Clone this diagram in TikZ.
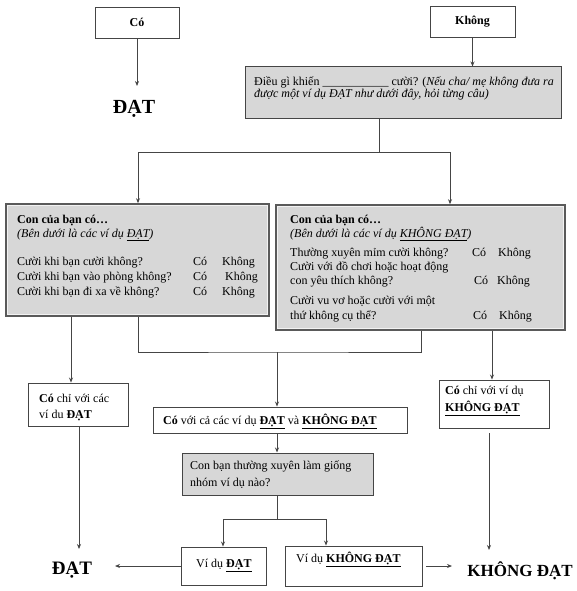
\documentclass[tikz,border=0pt]{standalone}
\usepackage{fontspec}
\setmainfont{Liberation Serif}
\usetikzlibrary{arrows.meta}
\definecolor{boxgray}{HTML}{D7D7D7}
\definecolor{linec}{HTML}{454545}
\definecolor{bevc}{HTML}{5A5A5A}
\definecolor{bevin}{HTML}{F2F2F2}
\begin{document}
\begin{tikzpicture}[x=1pt,y=-1pt,
  line/.style={draw=linec, line width=0.8pt},
  arr/.style={line, -{Stealth[length=5pt,width=4pt]}},
  wbox/.style={draw=linec, line width=0.9pt, fill=white, inner sep=0pt},
  gbox/.style={draw=linec, line width=1pt, fill=boxgray, inner sep=0pt},
  bbox/.style={draw=bevc, line width=1.6pt, fill=boxgray, inner sep=0pt},
  txt/.style={anchor=base west, inner sep=0pt, font=\fontsize{12}{14}\selectfont},
  big/.style={inner sep=0pt, font=\fontsize{20}{24}\selectfont\bfseries},
]
\useasboundingbox[fill=white] (0,0) rectangle (576,591);

% column coordinates
\coordinate (xa) at (71,0);
\coordinate (xb) at (138,0);
\coordinate (xd) at (421,0);
\coordinate (xe) at (492,0);
\coordinate (xf) at (79,0);
\coordinate (xg) at (489,0);
\coordinate (xh) at (223,0);
\coordinate (xi) at (326,0);
\coordinate (xk) at (450,0);
\coordinate (j1) at (379,152);
\coordinate (j2) at (277,352);
\coordinate (j3) at (277,519);

% top boxes
\node[wbox, minimum width=84pt, minimum height=31pt] (cobox) at (137,22.5) {};
\node[txt, anchor=center, font=\fontsize{12}{14}\selectfont\bfseries] (cot) at (cobox.center) {Có};
\node[wbox, minimum width=85pt, minimum height=31pt] (khbox) at (472.5,21.5) {};
\node[txt, anchor=center, font=\fontsize{12}{14}\selectfont\bfseries] (kht) at (khbox.center) {Không};
\node[big] (dat1) at (134,109) {ĐẠT};
\coordinate (dat1top) at (137,86);

% question 1
\node[gbox, minimum width=316pt, minimum height=52pt] (q1) at (403,93) {};
\node[txt] (q1a) at (254,86) {Điều gì khiến \_\_\_\_\_\_\_\_\_\_\_ cười? (\textit{Nếu cha/ mẹ không đưa ra}};
\node[txt] (q1b) at (254,98) {\textit{được một ví dụ ĐẠT như dưới đây, hỏi từng câu)}};

% left big box
\node[bbox, minimum width=263pt, minimum height=112pt] (lbox) at (137.5,260) {};
\draw[bevin, line width=0.8pt] ([shift={(2.5pt,-2.5pt)}]lbox.north west) rectangle ([shift={(-2.5pt,2.5pt)}]lbox.south east);
\node[txt] (l1) at (17,223) {\textbf{Con của bạn có…}};
\node[txt] (l2) at (17,237) {\textit{(Bên dưới là các ví dụ \underline{ĐẠT})}};
\node[txt] (l3) at (17,265) {Cười khi bạn cười không?};
\node[txt] (l3a) at (193,265) {Có};
\node[txt] (l3b) at (222,265) {Không};
\node[txt] (l4) at (17,280) {Cười khi bạn vào phòng không?};
\node[txt] (l4a) at (193,280) {Có};
\node[txt] (l4b) at (225,280) {Không};
\node[txt] (l5) at (17,295) {Cười khi bạn đi xa về không?};
\node[txt] (l5a) at (193,295) {Có};
\node[txt] (l5b) at (222,295) {Không};

% right big box
\node[bbox, minimum width=289pt, minimum height=125pt] (rbox) at (420.5,267.5) {};
\draw[bevin, line width=0.8pt] ([shift={(2.5pt,-2.5pt)}]rbox.north west) rectangle ([shift={(-2.5pt,2.5pt)}]rbox.south east);
\node[txt] (r1) at (290,223) {\textbf{Con của bạn có…}};
\node[txt] (r2) at (290,237) {\textit{(Bên dưới là các ví dụ \underline{KHÔNG ĐẠT})}};
\node[txt] (r3) at (290,256) {Thường xuyên mỉm cười không?};
\node[txt] (r3a) at (472,256) {Có};
\node[txt] (r3b) at (498,256) {Không};
\node[txt] (r4) at (290,270) {Cười với đồ chơi hoặc hoạt động};
\node[txt] (r5) at (290,284) {con yêu thích không?};
\node[txt] (r5a) at (474,284) {Có};
\node[txt] (r5b) at (497,284) {Không};
\node[txt] (r6) at (290,304) {Cười vu vơ hoặc cười với một};
\node[txt] (r7) at (290,319) {thứ không cụ thể?};
\node[txt] (r7a) at (473,319) {Có};
\node[txt] (r7b) at (499,319) {Không};

% result boxes
\node[wbox, minimum width=100pt, minimum height=43pt] (lres) at (78,404.5) {};
\node[txt] (lr1) at (39,402) {\textbf{Có} chỉ với các};
\node[txt] (lr2) at (39,418) {ví du \textbf{ĐẠT}};
\node[wbox, minimum width=254pt, minimum height=26pt] (cbox) at (280,420) {};
\node[txt] (cb1) at (163,424) {\textbf{Có} với cả các ví dụ \underline{\textbf{ĐẠT}} và \underline{\textbf{KHÔNG ĐẠT}}};
\node[wbox, minimum width=110pt, minimum height=48pt] (rres) at (494,404) {};
\node[txt] (rr1) at (445,394) {\textbf{Có} chỉ với ví dụ};
\node[txt] (rr2) at (445,411) {\underline{\textbf{KHÔNG ĐẠT}}};

% question 2
\node[gbox, minimum width=191pt, minimum height=42pt] (q2) at (277.5,474) {};
\node[txt] (q2a) at (190,469) {Con bạn thường xuyên làm giống};
\node[txt] (q2b) at (190,486) {nhóm ví dụ nào?};

% example boxes
\node[wbox, minimum width=85pt, minimum height=38pt] (vd1) at (223.5,566) {};
\node[txt] (vd1t) at (196,567) {Ví dụ \underline{\textbf{ĐẠT}}};
\node[wbox, minimum width=137pt, minimum height=40pt] (vd2) at (353.5,566) {};
\node[txt] (vd2t) at (296,562) {Ví dụ \underline{\textbf{KHÔNG ĐẠT}}};

% final results
\node[big, font=\fontsize{19}{23}\selectfont\bfseries] (dat2) at (72,570) {ĐẠT};
\node[big, font=\fontsize{17}{21}\selectfont\bfseries] (kd2) at (520,571) {KHÔNG ĐẠT};
\coordinate (dat2top) at (79,549);
\coordinate (kd2top) at (489,550);
\coordinate (dat2r) at (115,566);
\coordinate (kd2l) at (452,566);

% connectors
\draw[arr] (cobox.south) -- (dat1top);
\draw[arr] (khbox.south) -- (khbox.south |- q1.north);
\draw[line] (q1.south -| j1) -- (j1);
\draw[arr] (j1) -| (lbox.north -| xb);
\draw[arr] (j1) -| (rbox.north -| xk);
\draw[arr] (lbox.south -| xa) -- (lres.north -| xa);
\draw[line] (lbox.south -| xb) |- (j2) -| (rbox.south -| xd);
\draw[arr] (j2) -- (cbox.north -| j2);
\draw[arr] (rbox.south -| xe) -- (rres.north -| xe);
\draw[arr] (cbox.south -| j2) -- (q2.north -| j2);
\draw[line] (q2.south -| j3) -- (j3);
\draw[arr] (j3) -| (vd1.north -| xh);
\draw[arr] (j3) -| (vd2.north -| xi);
\draw[arr] (lres.south -| xf) -- (dat2top);
\draw[arr] ([yshift=-5pt]rres.south -| xg) -- (kd2top);
\draw[arr] (vd1.west) -- (dat2r);
\draw[arr] ([xshift=4pt]vd2.east) -- (kd2l);
\end{tikzpicture}
\end{document}
